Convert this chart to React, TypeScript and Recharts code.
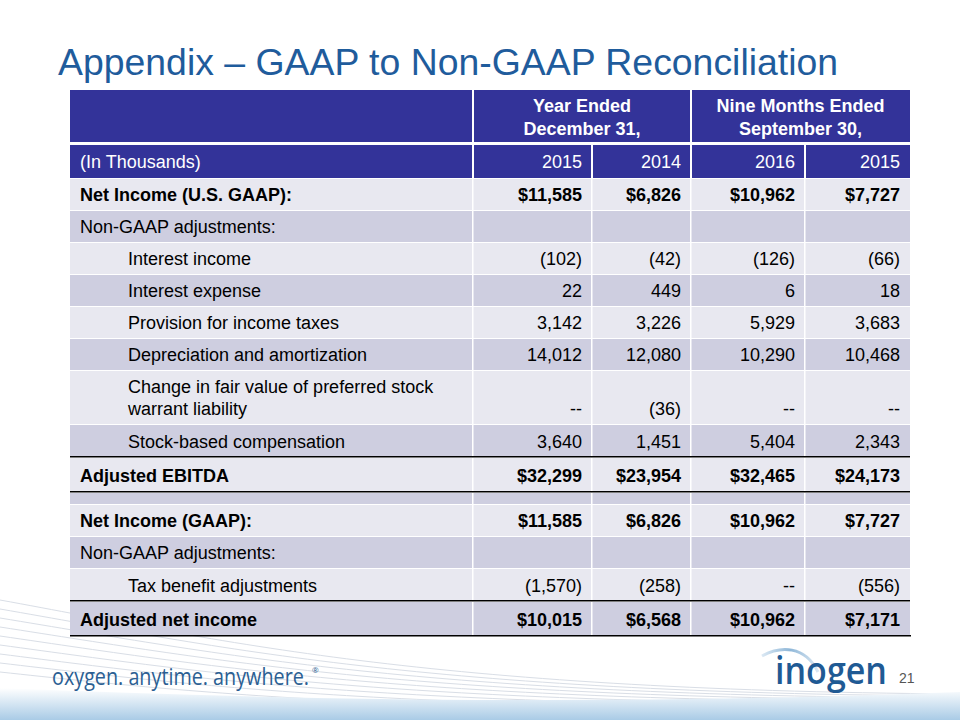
import { Surface, Layer, Rectangle, Text } from "recharts"

const slideTitle = "Appendix – GAAP to Non-GAAP Reconciliation"
const unitLabel = "(In Thousands)"
const groupHeaders = [
  ["Year Ended", "December 31,"],
  ["Nine Months Ended", "September 30,"],
]
const periods = ["2015", "2014", "2016", "2015"]

const rowLabels = [
  "Net Income (U.S. GAAP):",
  "Non-GAAP adjustments:",
  "Interest income",
  "Interest expense",
  "Provision for income taxes",
  "Depreciation and amortization",
  "Change in fair value of preferred stock\nwarrant liability",
  "Stock-based compensation",
  "Adjusted EBITDA",
  "",
  "Net Income (GAAP):",
  "Non-GAAP adjustments:",
  "Tax benefit adjustments",
  "Adjusted net income",
]

// one list per period column, same order as rowLabels
const fy2015 = ["$11,585", "", "(102)", "22", "3,142", "14,012", "--", "3,640", "$32,299", "", "$11,585", "", "(1,570)", "$10,015"]
const fy2014 = ["$6,826", "", "(42)", "449", "3,226", "12,080", "(36)", "1,451", "$23,954", "", "$6,826", "", "(258)", "$6,568"]
const nm2016 = ["$10,962", "", "(126)", "6", "5,929", "10,290", "--", "5,404", "$32,465", "", "$10,962", "", "--", "$10,962"]
const nm2015 = ["$7,727", "", "(66)", "18", "3,683", "10,468", "--", "2,343", "$24,173", "", "$7,727", "", "(556)", "$7,171"]
const columns = [fy2015, fy2014, nm2016, nm2015]

const footerTagline = "oxygen. anytime. anywhere."
const brandName = "inogen"
const pageNumber = "21"

// layout / style
const FONT = "'Liberation Sans', Arial, Helvetica, sans-serif"
const FS = 18
const NAVY = "#333399"
const LIGHT = "#E8E8F0"
const DARK = "#CECEE0"
const TITLE_BLUE = "#1F5C9C"
const colEdges = [70, 473, 592, 691, 805, 910]
const bodyTop = 178
const rowHeights = [32, 32, 32, 32, 32, 32, 54, 33, 35, 12, 32, 32, 33, 35]
const boldRows = [0, 8, 10, 13]
const indentRows = [2, 3, 4, 5, 6, 7, 12]
const ruleRows = [8, 9, 13]

const rowTops: number[] = []
rowHeights.reduce((y, h) => {
  rowTops.push(y)
  return y + h
}, bodyTop)
const tableBottom = rowTops[rowTops.length - 1] + rowHeights[rowHeights.length - 1]

function Background() {
  const lines = Array.from({ length: 9 }, (_, i) => i)
  return (
    <Layer>
      <defs>
        <linearGradient id="band" x1="0" y1="0" x2="0" y2="1">
          <stop offset="0%" stopColor="#ffffff" />
          <stop offset="100%" stopColor="#a9cbe6" />
        </linearGradient>
        <linearGradient id="arc" x1="0" y1="0" x2="1" y2="0">
          <stop offset="0%" stopColor="#dbe8f3" />
          <stop offset="50%" stopColor="#8fb7d8" />
          <stop offset="100%" stopColor="#dbe8f3" />
        </linearGradient>
      </defs>
      {lines.map((i) => (
        <path
          key={i}
          d={`M0,${600 + i * 9} C 220,${640 + i * 7} 420,${690 + i * 3} 960,${694 + i * 2}`}
          fill="none"
          stroke="#d9dee6"
          strokeWidth={1}
        />
      ))}
      <path d="M0,688 C 300,700 600,706 960,692 L960,720 L0,720 Z" fill="url(#band)" />
    </Layer>
  )
}

function Table() {
  return (
    <Layer>
      {/* header row 1 */}
      <Rectangle x={colEdges[0]} y={90} width={colEdges[5] - colEdges[0]} height={52} fill={NAVY} />
      {[colEdges[1], colEdges[3]].map((x) => (
        <Rectangle key={x} x={x - 1} y={90} width={2} height={52} fill="#fff" />
      ))}
      {groupHeaders.map((lines, g) => {
        const cx = (colEdges[1 + g * 2] + colEdges[3 + g * 2]) / 2
        return lines.map((t, k) => (
          <Text key={`${g}-${k}`} x={cx} y={112 + k * 23} textAnchor="middle" fontSize={FS} fontWeight="bold" fill="#fff" fontFamily={FONT}>
            {t}
          </Text>
        ))
      })}

      {/* header row 2 */}
      <Rectangle x={colEdges[0]} y={145} width={colEdges[5] - colEdges[0]} height={33} fill={NAVY} />
      {colEdges.slice(1, 5).map((x) => (
        <Rectangle key={x} x={x - 1} y={145} width={2} height={33} fill="#fff" />
      ))}
      <Text x={80} y={168} fontSize={FS} fill="#fff" fontFamily={FONT}>
        {unitLabel}
      </Text>
      {periods.map((p, c) => (
        <Text key={c} x={colEdges[c + 2] - 10} y={168} textAnchor="end" fontSize={FS} fill="#fff" fontFamily={FONT}>
          {p}
        </Text>
      ))}

      {/* body */}
      {rowLabels.map((label, r) => {
        const top = rowTops[r]
        const h = rowHeights[r]
        const bold = boldRows.includes(r)
        const lx = indentRows.includes(r) ? 128 : 80
        const labelLines = label.split("\n")
        const multi = labelLines.length > 1
        const base = multi ? top + h - 9 : top + h / 2 + 7
        return (
          <Layer key={r}>
            <Rectangle x={colEdges[0]} y={top} width={colEdges[5] - colEdges[0]} height={h} fill={r % 2 === 0 ? LIGHT : DARK} />
            <Rectangle x={colEdges[0]} y={top} width={colEdges[5] - colEdges[0]} height={1} fill="#fff" />
            {labelLines.map((t, k) => (
              <Text
                key={k}
                x={lx}
                y={multi ? base - (labelLines.length - 1 - k) * 22 : base}
                fontSize={FS}
                fontWeight={bold ? "bold" : "normal"}
                fill="#000"
                fontFamily={FONT}
              >
                {t}
              </Text>
            ))}
            {columns.map((col, c) =>
              col[r] ? (
                <Text
                  key={c}
                  x={colEdges[c + 2] - 10}
                  y={base}
                  textAnchor="end"
                  fontSize={FS}
                  fontWeight={bold ? "bold" : "normal"}
                  fill="#000"
                  fontFamily={FONT}
                >
                  {col[r]}
                </Text>
              ) : null
            )}
          </Layer>
        )
      })}
      {colEdges.slice(1, 5).map((x) => (
        <Rectangle key={x} x={x - 1} y={bodyTop} width={1.5} height={tableBottom - bodyTop} fill="#fff" />
      ))}
      {ruleRows.map((r) => (
        <Rectangle key={r} x={colEdges[0]} y={rowTops[r] - 1} width={colEdges[5] - colEdges[0]} height={1.5} fill="#000" />
      ))}
      <Rectangle x={colEdges[0]} y={tableBottom - 1} width={colEdges[5] - colEdges[0] + 1} height={1.5} fill="#000" />
    </Layer>
  )
}

export default function App() {
  return (
    <div style={{ position: "absolute", left: 0, top: 0, width: 960, height: 720, background: "#fff" }}>
      <Surface width={960} height={720} viewBox={{ x: 0, y: 0, width: 960, height: 720 }}>
        <Background />
        <Text x={58} y={75} fontSize={37.4} fill={TITLE_BLUE} fontFamily={FONT}>
          {slideTitle}
        </Text>
        <Table />
        <text x={52} y={685} fontSize={23} fill="#2C5F93" fontFamily="'Open Sans', sans-serif">
          <tspan textLength={257} lengthAdjust="spacingAndGlyphs">
            {footerTagline}
          </tspan>
          <tspan fontSize={8} dx={3} dy={-12}>
            ®
          </tspan>
        </text>
        <path d="M762,656 C 780,646 805,645 818,672" fill="none" stroke="url(#arc)" strokeWidth={3} />
        <text x={775} y={684} fontSize={38} fontWeight={600} fill="#1F5A94" fontFamily="'Open Sans', sans-serif" textLength={112} lengthAdjust="spacingAndGlyphs">
          {brandName}
        </text>
        <text x={899} y={683} fontSize={14} fill="#555" fontFamily={FONT}>
          {pageNumber}
        </text>
      </Surface>
    </div>
  )
}
